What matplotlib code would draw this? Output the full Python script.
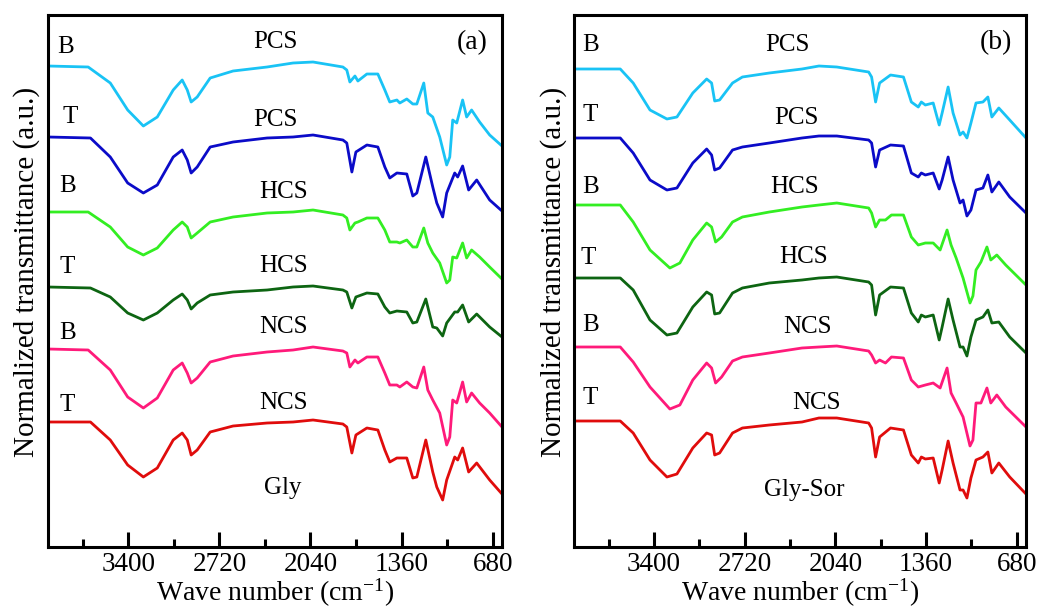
import matplotlib.pyplot as plt
import numpy as np

plt.rcParams['font.family'] = 'Liberation Serif'
plt.rcParams['mathtext.fontset'] = 'custom'
plt.rcParams['mathtext.rm'] = 'Liberation Serif'
plt.rcParams['mathtext.it'] = 'Liberation Serif:italic'

# Espectros FTIR (eje y en u.a., crece hacia abajo, ya con el desplazamiento)
# ---------- panel (a): Gly ----------
wn_a_B = [4000, 3700, 3535, 3405, 3288, 3184, 3065, 2998, 2960, 2931, 2886, 2789, 2618, 2364,
          2170, 2021, 1798, 1769, 1746, 1708, 1686, 1619, 1537, 1485, 1448, 1395, 1373, 1321,
          1276, 1246, 1194, 1164, 1127, 1075, 1023, 1000, 978, 948, 904, 874, 837, 777, 702, 610]
wn_a_T = [4000, 3683, 3535, 3405, 3288, 3184, 3065, 2998, 2960, 2931, 2886, 2789, 2618, 2364,
          2170, 2021, 1798, 1769, 1731, 1701, 1619, 1537, 1485, 1448, 1395, 1321, 1276, 1246,
          1179, 1127, 1097, 1053, 1023, 963, 941, 904, 859, 799, 702, 610]

pcs_B_a = [66, 67, 83, 110, 126, 117, 90, 80, 90, 102, 97, 78, 71, 67,
           63, 62, 67, 70, 82, 76, 81, 74, 74, 90, 102, 100, 103, 99, 104, 104,
           83, 113, 117, 137, 165, 157, 120, 123, 100, 117, 110, 122, 135, 146]
pcs_T_a = [137, 138, 157, 183, 193, 185, 157, 150, 160, 173, 167, 147, 142, 138,
           137, 135, 140, 143, 172, 152, 145, 147, 167, 178, 173, 174, 196, 193,
           157, 187, 203, 217, 193, 173, 177, 166, 190, 180, 200, 211]
hcs_B_a = [212, 212, 227, 247, 255, 248, 230, 222, 227, 238, 233, 222, 217, 213,
           212, 210, 215, 218, 230, 223, 222, 218, 218, 230, 242, 242, 243, 240, 247, 247,
           228, 243, 253, 263, 283, 280, 257, 258, 243, 258, 250, 257, 267, 279]
hcs_T_a = [287, 288, 297, 313, 320, 313, 300, 294, 300, 309, 303, 295, 292, 290,
           287, 286, 290, 292, 308, 297, 293, 294, 307, 313, 311, 312, 323, 322,
           299, 327, 328, 336, 323, 312, 312, 305, 322, 314, 327, 337]
ncs_B_a = [349, 350, 370, 397, 408, 398, 370, 363, 373, 383, 378, 362, 356, 352,
           350, 347, 351, 353, 367, 360, 363, 357, 357, 373, 385, 385, 387, 382, 387, 388,
           367, 390, 400, 413, 445, 437, 400, 403, 382, 402, 393, 403, 413, 427]
ncs_T_a = [422, 422, 440, 465, 477, 468, 440, 433, 440, 455, 450, 432, 426, 423,
           422, 420, 424, 427, 453, 435, 428, 430, 450, 462, 458, 458, 478, 477,
           440, 472, 487, 500, 480, 457, 460, 448, 472, 463, 480, 494]

# ---------- panel (b): Gly-Sor ----------
wn_b_1 = [4000, 3653, 3556, 3430, 3303, 3228, 3109, 3005, 2968, 2945, 2908, 2811, 2737, 2535, 2290,
          2163, 2029, 1790, 1768, 1738, 1708, 1626, 1529, 1470, 1418, 1395, 1365, 1306, 1261,
          1239, 1194, 1157, 1105, 1082, 1053, 1023, 985, 933, 896, 866, 814, 732, 610]
wn_b_2 = [4000, 3653, 3556, 3430, 3281, 3206, 3109, 3005, 2968, 2938, 2893, 2811, 2737, 2535, 2290,
          2163, 2029, 1790, 1768, 1738, 1708, 1664, 1619, 1529, 1470, 1418, 1365, 1306, 1254,
          1202, 1172, 1134, 1082, 1030, 1008, 985, 948, 903, 874, 829, 762, 610]

pcs_B_b = [69, 69, 83, 110, 119, 117, 93, 79, 83, 101, 100, 83, 77, 73, 69,
           66, 67, 72, 77, 102, 83, 75, 77, 102, 107, 102, 105, 103, 125, 113, 87,
           113, 135, 132, 138, 123, 103, 102, 97, 117, 108, 120, 138]
pcs_T_b = [138, 138, 153, 180, 190, 188, 163, 149, 155, 170, 168, 150, 147, 143, 138,
           136, 136, 140, 143, 167, 150, 145, 146, 173, 177, 173, 175, 173, 189, 180, 157,
           180, 203, 200, 216, 210, 190, 188, 175, 192, 182, 197, 213]
hcs_B_b = [205, 205, 222, 250, 268, 263, 240, 223, 227, 242, 237, 222, 217, 212, 207,
           205, 203, 208, 213, 227, 220, 220, 215, 215, 237, 245, 243, 243, 250, 230,
           245, 258, 278, 303, 296, 270, 262, 247, 260, 255, 265, 285]
hcs_T_b = [278, 278, 290, 320, 335, 333, 307, 292, 295, 314, 313, 293, 288, 283, 280,
           278, 277, 282, 285, 315, 295, 287, 288, 313, 322, 315, 317, 315, 340, 327, 299,
           320, 347, 347, 356, 337, 320, 317, 310, 323, 322, 337, 353]
ncs_B_b = [347, 347, 362, 387, 409, 405, 380, 363, 368, 383, 377, 361, 357, 353, 348,
           347, 346, 351, 355, 363, 360, 363, 357, 358, 380, 387, 385, 383, 388, 368,
           393, 403, 417, 446, 440, 403, 403, 388, 403, 395, 407, 427]
ncs_T_b = [421, 421, 433, 460, 477, 474, 448, 433, 435, 455, 453, 433, 428, 425, 422,
           418, 418, 423, 428, 457, 437, 428, 430, 455, 463, 457, 459, 458, 483, 470, 441,
           463, 490, 490, 498, 478, 460, 457, 452, 473, 463, 477, 494]

colores = ['#19c3f5', '#0b0bc8', '#33ee22', '#0d6512', '#ff1a7a', '#e00c0c']

lado = ['B', 'T', 'B', 'T', 'B', 'T']
muestra = ['PCS', 'PCS', 'HCS', 'HCS', 'NCS', 'NCS']
# posiciones de las etiquetas (u.a. del eje y)
y_lado_a = [47, 117, 186, 267, 333, 405]
y_muestra_a = [42, 120, 192, 266, 327, 403]
x_lado_a = [3869, 3832, 3854, 3854, 3854, 3854]
x_muestra_a = [2304, 2304, 2245, 2245, 2245, 2245]
y_lado_b = [45, 115, 187, 258, 325, 398]
y_muestra_b = [45, 118, 187, 257, 327, 403]
x_lado_b = [3877, 3877, 3877, 3890, 3877, 3877]
x_muestra_b = [2401, 2334, 2349, 2275, 2252, 2178]

paneles = [
    dict(curvas=[(wn_a_B, pcs_B_a), (wn_a_T, pcs_T_a), (wn_a_B, hcs_B_a),
                 (wn_a_T, hcs_T_a), (wn_a_B, ncs_B_a), (wn_a_T, ncs_T_a)],
         xl=x_lado_a, yl=y_lado_a, xm=x_muestra_a, ym=y_muestra_a,
         letra='(a)', nombre='Gly', xn=2245, yn=488,
         pos=[48/1046, 65/612, 454/1046, 532/612]),
    dict(curvas=[(wn_b_1, pcs_B_b), (wn_b_1, pcs_T_b), (wn_b_2, hcs_B_b),
                 (wn_b_1, hcs_T_b), (wn_b_2, ncs_B_b), (wn_b_1, ncs_T_b)],
         xl=x_lado_b, yl=y_lado_b, xm=x_muestra_b, ym=y_muestra_b,
         letra='(b)', nombre='Gly-Sor', xn=2275, yn=490,
         pos=[574/1046, 65/612, 452/1046, 532/612]),
]

fig = plt.figure(figsize=(10.46, 6.12), dpi=100)

for p in paneles:
    ax = fig.add_axes(p['pos'])
    for (wn, t), c in zip(p['curvas'], colores):
        ax.plot(wn, t, color=c, lw=2.0)
    ax.set_xlim(4000, 610)
    ax.set_ylim(547, 15)
    ax.set_xticks([3400, 2720, 2040, 1360, 680])
    ax.set_xticks([3740, 3060, 2380, 1700, 1020], minor=True)
    ax.set_yticks([])
    ax.tick_params(axis='x', which='major', direction='in', length=11, width=2.2,
                   labelsize=19.5, pad=3.5)
    ax.tick_params(axis='x', which='minor', direction='in', length=6, width=2.2)
    for s in ax.spines.values():
        s.set_linewidth(2.2)
    for i in range(6):
        ax.text(p['xl'][i], p['yl'][i], lado[i], fontsize=18, ha='center', va='center')
        ax.text(p['xm'][i], p['ym'][i], muestra[i], fontsize=18, ha='center', va='center')
    ax.text(p['xn'], p['yn'], p['nombre'], fontsize=18, ha='center', va='center')
    ax.text(836, 43, p['letra'], fontsize=20, ha='center', va='center')
    # titulos de los ejes
    ax.text(0.5, -54/532, 'Wave number (cm$^{\\mathrm{-1}}$)', transform=ax.transAxes,
            fontsize=20, ha='center', va='baseline')
    ax.text(-21/454, 0.517, 'Normalized transmittance (a.u.)', transform=ax.transAxes,
            rotation=90, fontsize=21, ha='center', va='center')

plt.savefig('out.png', dpi=100)
